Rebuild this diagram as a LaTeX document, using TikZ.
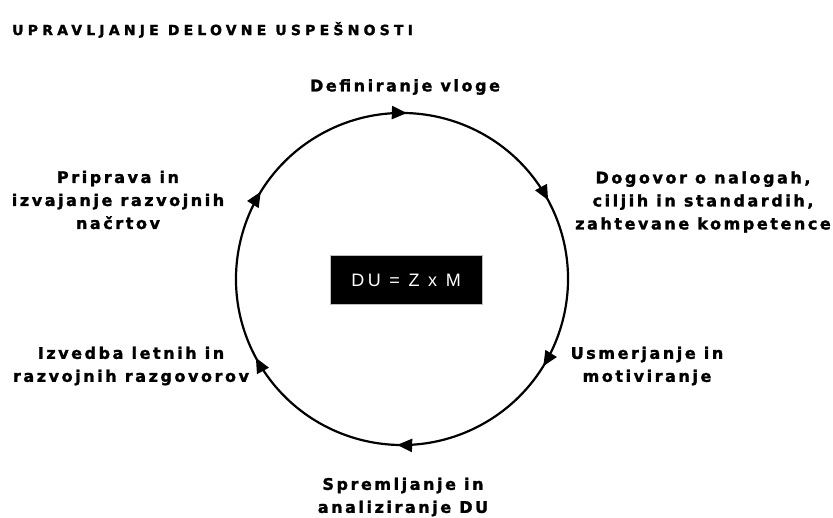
\documentclass[tikz,border=0pt]{standalone}
\usepackage{fontspec}
\setmainfont{Liberation Sans}
\newfontfamily\lblfont{DejaVu Sans Bold}[LetterSpace=16,FakeBold=1.6]
\newfontfamily\titlefont{DejaVu Sans Bold}[LetterSpace=30,FakeBold=1.6]
\newfontfamily\formulafont{Liberation Sans}[LetterSpace=20]
\usetikzlibrary{decorations.markings,arrows.meta}
\begin{document}
\begin{tikzpicture}[x=1pt,y=1pt,
  lbl/.style={font=\lblfont\fontsize{16}{23}\selectfont, align=center, inner sep=0pt},
  ttl/.style={font=\titlefont\fontsize{14}{16}\selectfont, inner sep=0pt, anchor=west},
  formula/.style={fill=black, draw=black!25, line width=0.8pt, text=white,
    minimum width=152pt, minimum height=49pt, inner sep=0pt,
    font=\formulafont\fontsize{18}{20}\selectfont},
  cycle/.style={line width=2.2pt, draw=black,
    postaction={decorate},
    decoration={markings,
      mark=between positions 0.088 and 1 step 0.16667 with
        {\arrow{Triangle[length=15pt,width=13pt]}}}}
]
\useasboundingbox (0,0) rectangle (833,517);
\fill[white] (0,0) rectangle (833,517);

% title
\node[ttl] (title) at (12,487) {UPRAVLJANJE DELOVNE USPEŠNOSTI};

% performance cycle, drawn clockwise from the upper-left
\coordinate (c) at (402,238);
\path[cycle] (c) ++(120:166) arc[start angle=120, delta angle=-360, radius=166];

% central formula
\node[formula] (du) at (406,237) {DU = Z x M};

% stages around the cycle
\node[lbl] (vloga) at (405,430) {Definiranje vloge};
\node[lbl] (dogovor) at (703,315) {Dogovor o nalogah,\\ciljih in standardih,\\zahtevane kompetence};
\node[lbl] (usmerjanje) at (647,151) {Usmerjanje in\\motiviranje};
\node[lbl] (spremljanje) at (403,20) {Spremljanje in\\analiziranje DU};
\node[lbl] (izvedba) at (131,151) {Izvedba letnih in\\razvojnih razgovorov};
\node[lbl] (priprava) at (118,317) {Priprava in\\izvajanje razvojnih\\načrtov};
\end{tikzpicture}
\end{document}
